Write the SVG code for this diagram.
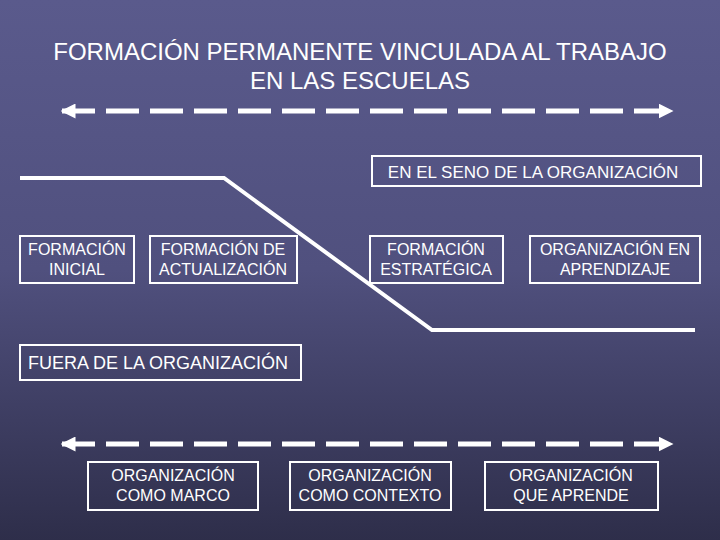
<svg xmlns="http://www.w3.org/2000/svg" width="720" height="540" viewBox="0 0 720 540">
<defs>
<linearGradient id="bg" x1="0" y1="0" x2="0" y2="1">
<stop offset="0" stop-color="#5a5a8c"/><stop offset="0.5" stop-color="#50507e"/><stop offset="1" stop-color="#2e2e4a"/>
</linearGradient>
<marker id="ah" viewBox="0 0 10 10" refX="9" refY="5" markerWidth="3" markerHeight="3" orient="auto-start-reverse" markerUnits="strokeWidth"><path d="M0,0 L10,5 L0,10 z" fill="#fff"/></marker>
<style>
.b{fill:none;stroke:#fff;stroke-width:2}
.t{font-family:"Liberation Sans",Arial,sans-serif;font-size:16px;font-weight:normal;fill:#fff;text-anchor:middle}
.d{stroke:#fff;stroke-width:5;stroke-dasharray:33 11;fill:none}
</style>
</defs>
<rect width="720" height="540" fill="url(#bg)"/>
<text class="t" x="360" y="60" style="font-size:24px">FORMACIÓN PERMANENTE VINCULADA AL TRABAJO</text>
<text class="t" x="360" y="89" style="font-size:24px">EN LAS ESCUELAS</text>
<g id="connectors">
<line class="d" x1="62" y1="111" x2="672" y2="111" marker-start="url(#ah)" marker-end="url(#ah)"/>
<line class="d" x1="62" y1="444" x2="672" y2="444" marker-start="url(#ah)" marker-end="url(#ah)"/>
<polyline points="20,178 224,178 432,330 695,330" fill="none" stroke="#fff" stroke-width="4"/>
</g>
<g id="seno"><rect class="b" x="372" y="156" width="329" height="30"/><text class="t" x="533" y="178" style="font-size:17px">EN EL SENO DE LA ORGANIZACIÓN</text></g>
<g id="inicial"><rect class="b" x="20" y="236" width="114" height="47"/><text class="t" x="77" y="255">FORMACIÓN</text><text class="t" x="77" y="275">INICIAL</text></g>
<g id="actualizacion"><rect class="b" x="150" y="236" width="147" height="47"/><text class="t" x="223" y="255">FORMACIÓN DE</text><text class="t" x="223" y="275">ACTUALIZACIÓN</text></g>
<g id="estrategica"><rect class="b" x="370" y="236" width="133" height="47"/><text class="t" x="436" y="255">FORMACIÓN</text><text class="t" x="436" y="275">ESTRATÉGICA</text></g>
<g id="aprendizaje"><rect class="b" x="530" y="236" width="170" height="47"/><text class="t" x="615" y="255">ORGANIZACIÓN EN</text><text class="t" x="615" y="275">APRENDIZAJE</text></g>
<g id="fuera"><rect class="b" x="20" y="345" width="281" height="35"/><text class="t" x="158" y="369" style="font-size:18px">FUERA DE LA ORGANIZACIÓN</text></g>
<g id="marco"><rect class="b" x="88" y="462" width="170" height="48"/><text class="t" x="173" y="481">ORGANIZACIÓN</text><text class="t" x="173" y="501">COMO MARCO</text></g>
<g id="contexto"><rect class="b" x="290" y="462" width="161" height="48"/><text class="t" x="370" y="481">ORGANIZACIÓN</text><text class="t" x="370" y="501">COMO CONTEXTO</text></g>
<g id="aprende"><rect class="b" x="485" y="462" width="173" height="48"/><text class="t" x="571" y="481">ORGANIZACIÓN</text><text class="t" x="571" y="501">QUE APRENDE</text></g>
</svg>
